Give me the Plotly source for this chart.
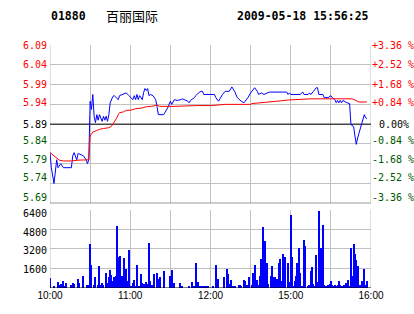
import plotly.graph_objects as go

# ---------------- data ----------------
stock_code = "01880"
stock_name = "百丽国际"
stamp = "2009-05-18 15:56:25"
prev_close = 5.89

price_time = ["10:00","10:01","10:03","10:04","10:05","10:06","10:08","10:10","10:16","10:17",
              "10:18","10:20","10:21","10:25","10:27","10:28","10:29","10:30","10:31","10:32",
              "10:33","10:34","10:35","10:36","10:37","10:39","10:40","10:41","10:42","10:43",
              "10:44","10:45","10:47","10:48","10:51","10:52","10:57","10:59","11:02","11:03",
              "11:04","11:05","11:06","11:07","11:09","11:10","11:11","11:12","11:13","11:14",
              "11:15","11:17","11:19","11:20","11:21","11:25","11:28","11:30","11:31","11:33",
              "11:35","11:38","11:39","11:43","11:44","11:45","11:48","11:49","11:51","11:53",
              "11:54","11:55","12:03","12:04","12:06","12:09","12:11","12:14","12:15","12:16",
              "12:18","12:20","12:23","12:25","12:28","14:30","14:33","14:35","14:36","14:38",
              "14:40","14:44","14:57","14:58","14:59","15:00","15:07","15:09","15:10","15:13",
              "15:14","15:15","15:17","15:19","15:20","15:21","15:24","15:25","15:28","15:30",
              "15:31","15:33","15:34","15:35","15:36","15:37","15:38","15:39","15:42","15:44",
              "15:45","15:47","15:48","15:49","15:50","15:51","15:52","15:53","15:54","15:55",
              "15:56","15:57"]
price = [5.818,5.78,5.74,5.78,5.80,5.78,5.79,5.78,5.78,5.81,
         5.818,5.80,5.816,5.81,5.80,5.79,5.80,5.948,5.927,5.965,
         5.91,5.894,5.914,5.90,5.914,5.897,5.91,5.90,5.91,5.897,
         5.914,5.944,5.96,5.962,5.952,5.962,5.969,5.962,5.952,5.962,
         5.952,5.965,5.952,5.962,5.952,5.97,5.98,5.975,5.98,5.962,
         5.965,5.962,5.952,5.935,5.914,5.914,5.931,5.948,5.94,5.952,
         5.95,5.952,5.954,5.948,5.944,5.95,5.957,5.962,5.969,5.973,
         5.973,5.965,5.965,5.957,5.948,5.965,5.973,5.973,5.978,5.984,
         5.973,5.957,5.948,5.944,5.957,5.969,5.982,5.973,5.965,5.969,
         5.965,5.971,5.971,5.965,5.969,5.965,5.965,5.971,5.965,5.965,
         5.969,5.965,5.973,5.982,5.982,5.965,5.965,5.957,5.957,5.962,
         5.957,5.952,5.944,5.95,5.944,5.95,5.944,5.95,5.944,5.942,
         5.889,5.884,5.86,5.839,5.855,5.868,5.88,5.894,5.902,5.914,
         5.906,5.904]

avg_time = ["10:00","10:02","10:05","10:07","10:10","10:16","10:21","10:29","10:30","10:31",
            "10:32","10:35","10:37","10:40","10:44","10:46","10:47","10:49","10:50","10:51",
            "10:52","10:55","10:57","11:00","11:04","11:09","11:12","11:16","11:19","11:20",
            "11:22","11:34","11:50","12:01","12:11","14:30","14:31","14:39","14:41","14:50",
            "14:58","15:15","15:46","15:48","15:51","15:57"]
avg_price = [5.818,5.813,5.805,5.799,5.797,5.797,5.799,5.80,5.86,5.865,
             5.87,5.874,5.877,5.879,5.881,5.885,5.89,5.90,5.906,5.914,
             5.919,5.921,5.925,5.925,5.929,5.931,5.934,5.935,5.937,5.938,
             5.935,5.935,5.937,5.937,5.94,5.94,5.942,5.944,5.946,5.948,
             5.951,5.954,5.954,5.951,5.946,5.946]

vol_time = ["10:00","10:03","10:06","10:07","10:08","10:10","10:11","10:12","10:16","10:17",
            "10:18","10:21","10:22","10:25","10:28","10:29","10:30","10:31","10:33","10:34",
            "10:36","10:37","10:38","10:39","10:40","10:42","10:43","10:44","10:45","10:46",
            "10:47","10:48","10:49","10:50","10:51","10:52","10:53","10:54","10:55","10:56",
            "10:57","10:58","10:59","11:00","11:01","11:02","11:03","11:04","11:05","11:06",
            "11:07","11:08","11:09","11:10","11:12","11:13","11:14","11:15","11:16","11:18",
            "11:20","11:21","11:22","11:25","11:30","11:31","11:32","11:33","11:37","11:38",
            "11:39","11:44","11:46","11:48","11:49","11:51","11:52","11:54","11:55","11:57",
            "11:58","12:02","12:04","12:05","12:06","12:10","12:12","12:13","12:14","12:15",
            "12:17","12:18","12:21","12:22","12:23","12:25","12:26","12:27","12:29","14:31",
            "14:32","14:33","14:34","14:35","14:36","14:37","14:38","14:39","14:40","14:41",
            "14:42","14:43","14:45","14:46","14:47","14:48","14:50","14:51","14:52","14:53",
            "14:54","14:55","14:56","14:58","14:59","15:00","15:01","15:02","15:03","15:04",
            "15:05","15:06","15:07","15:08","15:09","15:10","15:11","15:13","15:14","15:15",
            "15:16","15:17","15:18","15:19","15:20","15:21","15:22","15:23","15:24","15:25",
            "15:26","15:27","15:28","15:29","15:30","15:31","15:32","15:33","15:34","15:35",
            "15:36","15:37","15:38","15:39","15:40","15:41","15:42","15:43","15:44","15:45",
            "15:46","15:47","15:48","15:49","15:50","15:51","15:52","15:53","15:54","15:55",
            "15:56","15:57"]
volume = [840,190,490,245,350,650,190,410,300,410,
          350,815,410,980,245,245,3590,1877,245,900,
          245,1795,300,460,245,1224,410,925,1470,1088,
          650,900,1060,5060,2557,2611,245,1060,2448,330,
          1550,650,3100,165,165,410,734,165,1877,165,
          165,1142,460,330,571,330,3672,650,245,1142,
          1224,815,900,1387,980,1470,245,410,410,165,
          165,165,571,165,2120,571,165,165,165,165,
          165,165,1930,330,815,900,1605,1142,330,734,
          220,165,245,245,165,734,650,245,900,245,
          1224,1930,245,734,245,980,2366,4978,245,3835,
          2040,330,980,1795,900,900,815,2040,2366,650,
          2774,1958,2530,2120,571,5957,2530,165,650,980,
          2040,3264,1224,165,165,3917,3427,165,245,1387,
          1714,330,165,2693,571,6283,3019,3264,5140,245,
          165,165,245,330,650,245,165,245,165,245,
          650,245,165,165,245,410,245,734,165,3264,
          980,3590,2774,2285,1795,165,245,650,165,1550,
          245,650]

price_ticks = [6.09, 6.04, 5.99, 5.94, 5.89, 5.84, 5.79, 5.74, 5.69]
price_tick_text = ["6.09", "6.04", "5.99", "5.94", "5.89", "5.84", "5.79", "5.74", "5.69"]
pct_tick_text = ["+3.36 %", "+2.52 %", "+1.68 %", "+0.84 %", "0.00%",
                 "-0.84 %", "-1.68 %", "-2.52 %", "-3.36 %"]
vol_ticks = [6400, 4800, 3200, 1600]
time_tick_text = ["10:00", "11:00", "12:00", "15:00", "16:00"]

# ---------------- helpers / style ----------------
def tidx(t):
    h, m = map(int, t.split(":"))
    mins = h * 60 + m
    if mins <= 12 * 60 + 30:
        return mins - 600
    return 150 + mins - (14 * 60 + 30)

RED = "#ff0000"
GREEN = "#005800"
GRID = "#c0c0c0"
label_shift = [0, 0, 0.5, 2, 0, 3, 4, 6, 6]
vol_label_shift = [-4, -3, -2, -1]

px = [tidx(t) for t in price_time]
ax = [tidx(t) for t in avg_time]
vx = [tidx(t) for t in vol_time]

fig = go.Figure()
fig.add_trace(go.Scatter(x=px, y=price, mode="lines", line=dict(color="#0000ff", width=1),
                         xaxis="x", yaxis="y", hoverinfo="skip"))
fig.add_trace(go.Scatter(x=ax, y=avg_price, mode="lines", line=dict(color=RED, width=1),
                         xaxis="x", yaxis="y", hoverinfo="skip"))
fig.add_trace(go.Bar(x=vx, y=volume, width=0.8, marker=dict(color="#0000ff", line=dict(width=0)),
                     xaxis="x2", yaxis="y2", hoverinfo="skip"))

grid_x = list(range(0, 241, 30))
grid_text = []
for v in grid_x:
    grid_text.append(time_tick_text[v // 60] if v % 60 == 0 else "")

H = 314 - 45 - 26
fig.update_layout(
    width=414, height=314,
    margin=dict(l=50, r=43, t=45, b=26),
    paper_bgcolor="white", plot_bgcolor="white",
    showlegend=False,
    xaxis=dict(domain=[0, 1], range=[0, 240], tickvals=grid_x, showticklabels=False,
               showgrid=True, gridcolor=GRID, gridwidth=1, zeroline=False, showline=False,
               anchor="y", fixedrange=True),
    yaxis=dict(domain=[(288 - 203.3) / H, 1], range=[5.69, 6.09], tickvals=price_ticks,
               showticklabels=False, showgrid=True, gridcolor=GRID, gridwidth=1,
               zeroline=False, showline=False, fixedrange=True),
    xaxis2=dict(domain=[0, 1], range=[0, 240], tickvals=grid_x, ticktext=grid_text,
                showgrid=True, gridcolor=GRID, gridwidth=1, zeroline=False, showline=False,
                anchor="y2", ticks="", tickfont=dict(family="Liberation Sans", size=10, color="black"),
                fixedrange=True),
    yaxis2=dict(domain=[0, (288 - 209.5) / H], range=[0, 6400], tickvals=vol_ticks,
                showticklabels=False, showgrid=True, gridcolor=GRID, gridwidth=1,
                zeroline=False, showline=False, fixedrange=True),
    bargap=0,
)

shapes = []
# price panel frame
shapes.append(dict(type="line", xref="x", yref="y", x0=0, x1=240, y0=prev_close, y1=prev_close,
                   line=dict(color="black", width=1), layer="between"))
shapes.append(dict(type="line", xref="x", yref="y", x0=0, x1=240, y0=5.69, y1=5.69,
                   line=dict(color="black", width=1), layer="above"))
for xx in (0, 240):
    shapes.append(dict(type="line", xref="x", yref="y", x0=xx, x1=xx, y0=5.69, y1=6.09,
                       line=dict(color=GRID, width=1), layer="below"))
    shapes.append(dict(type="line", xref="x2", yref="y2", x0=xx, x1=xx, y0=0, y1=6400,
                       line=dict(color=GRID, width=1), layer="below"))
shapes.append(dict(type="line", xref="x2", yref="y2", x0=0, x1=240, y0=0, y1=0,
                   line=dict(color="black", width=1), layer="above"))
fig.update_layout(shapes=shapes)

ann = []
mono = "DejaVu Sans Mono"
for i, (v, t, pt) in enumerate(zip(price_ticks, price_tick_text, pct_tick_text)):
    col = RED if v > prev_close + 1e-9 else ("black" if abs(v - prev_close) < 1e-9 else GREEN)
    ann.append(dict(xref="paper", yref="y", x=0, y=v, text=t, showarrow=False,
                    xanchor="right", yanchor="middle", xshift=-1, yshift=label_shift[i],
                    font=dict(family=mono, size=10, color=col)))
    ann.append(dict(xref="paper", yref="y", x=1, y=v, text=pt, showarrow=False,
                    xanchor="left", yanchor="middle", xshift=(6 if pt == "0.00%" else -1),
                    yshift=label_shift[i], font=dict(family=mono, size=10, color=col)))
for i, v in enumerate(vol_ticks):
    ann.append(dict(xref="paper", yref="y2", x=0, y=v, text=str(v), showarrow=False,
                    xanchor="right", yanchor="middle", xshift=-1, yshift=vol_label_shift[i],
                    font=dict(family=mono, size=10, color="black")))

ytop = 1 + (45 - 16) / H
ann.append(dict(xref="paper", yref="paper", x=0, y=ytop, text="<b>%s</b>" % stock_code,
                showarrow=False, xanchor="left", yanchor="middle", xshift=-1,
                font=dict(family="DejaVu Sans Mono", size=11.5, color="black")))
ann.append(dict(xref="paper", yref="paper", x=55 / 321, y=ytop, text=stock_name,
                showarrow=False, xanchor="left", yanchor="middle", xshift=-1,
                font=dict(family="Noto Sans CJK SC", size=13, color="black")))
ann.append(dict(xref="paper", yref="paper", x=320 / 321, y=ytop, text="<b>%s</b>" % stamp,
                showarrow=False, xanchor="right", yanchor="middle", xshift=1,
                font=dict(family="DejaVu Sans Mono", size=11.5, color="black")))
fig.update_layout(annotations=ann)

fig.write_html("out.html", config={"displayModeBar": False})
